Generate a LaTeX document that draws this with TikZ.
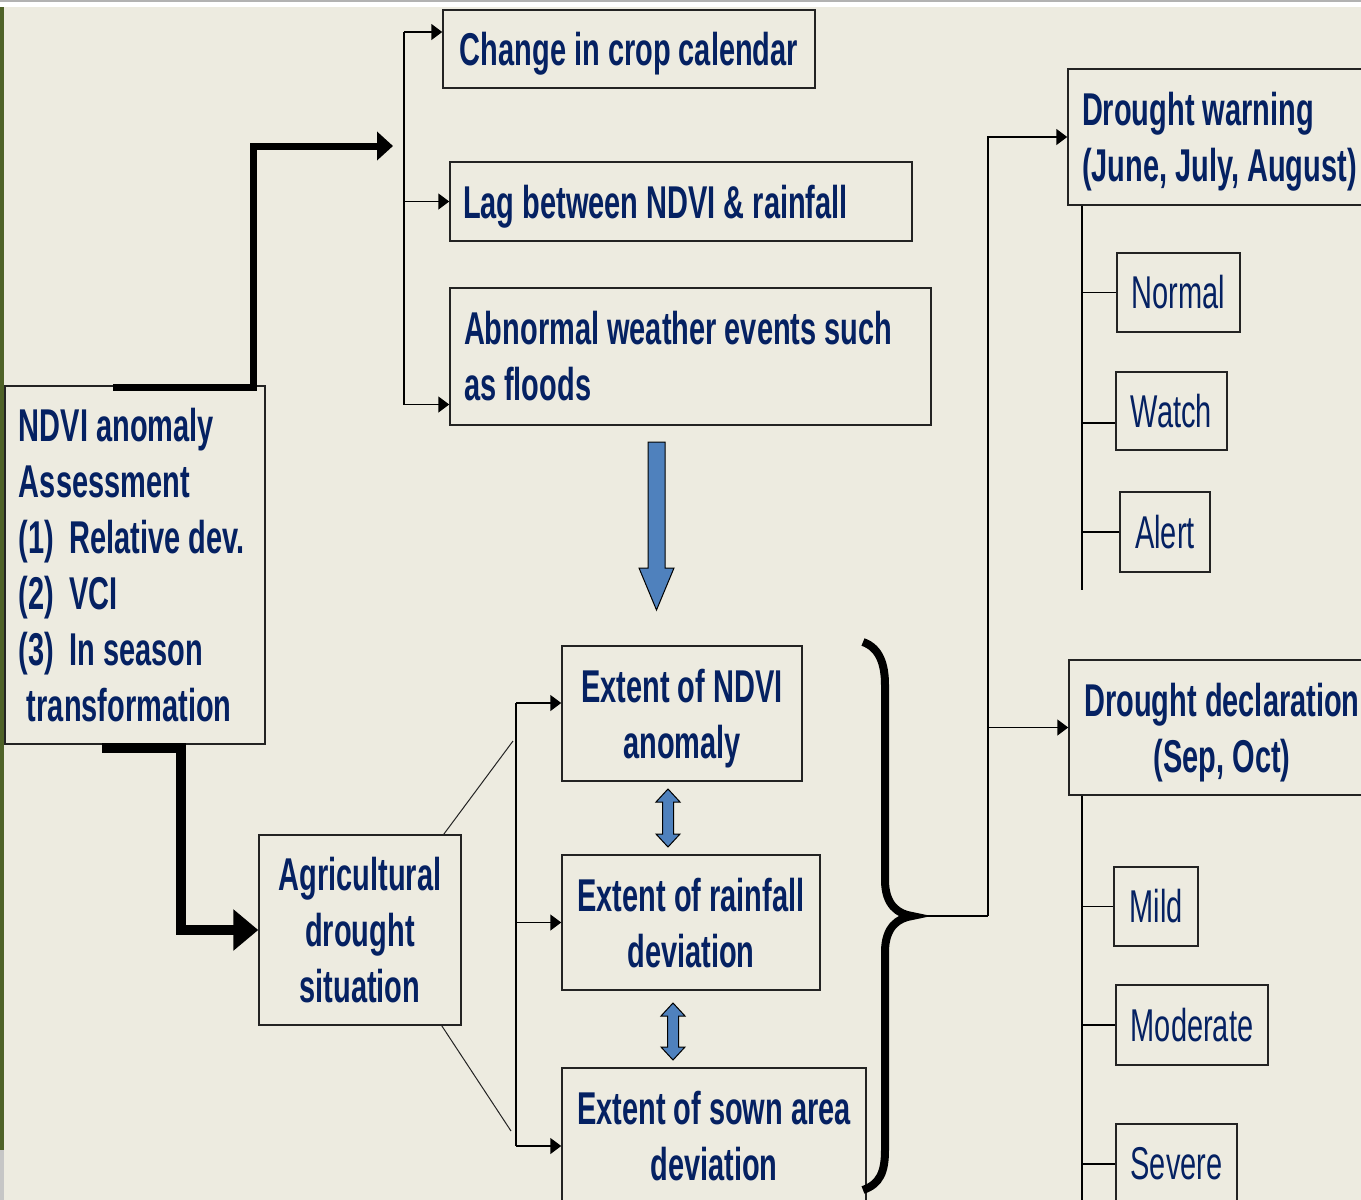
\documentclass[tikz,border=0pt]{standalone}
\usepackage{fontspec}
\newfontfamily\narrowfont{Liberation Sans}[FakeStretch=0.63]
\usepackage{tikz}
\usetikzlibrary{arrows.meta,positioning,calc}

\definecolor{bgbeige}{RGB}{237,235,224}
\definecolor{olivebar}{RGB}{79,98,40}
\definecolor{txtnavy}{RGB}{5,33,98}
\definecolor{arrowblue}{RGB}{79,129,189}
\definecolor{boxline}{RGB}{35,35,35}
\hyphenpenalty=10000

\begin{document}
\begin{tikzpicture}[x=1pt,y=-1pt,
    box/.style={draw=boxline, line width=1.5pt, inner xsep=14pt, inner ysep=0pt,
        text=txtnavy, font=\narrowfont\bfseries\fontsize{46}{56}\selectfont},
    cbox/.style={box, align=center, text depth=0pt},
    lvl/.style={box, inner xsep=0pt, font=\narrowfont\fontsize{46}{56}\selectfont},
    fork/.style={draw=black, line width=1.5pt},
    tip/.style={fork, -{Triangle[length=11pt,width=16pt]}},
    thickarrow/.style={draw=black, line width=7pt, -{Triangle[length=16pt,width=28pt]}},
    blockarrow/.style={fill=arrowblue, draw=black, line width=1pt}]
    \useasboundingbox (0,0) rectangle (1361,1200);
    \clip (0,0) rectangle (1361,1200);
    % slide background
    \fill[bgbeige] (0,0) rectangle (1361,1200);
    \fill[white] (0,0) rectangle (1361,7);
    \draw[gray!60, line width=1.5pt] (0,1) -- (1361,1);
    \fill[olivebar] (0,7) rectangle (4,1150);
    \fill[gray!45] (0,1150) rectangle (4,1200);

    % left column
    \node[box, minimum height=358pt, text width=232pt, align=flush left] (ndvi) at (135,565)
        {NDVI~anomaly\\Assessment\\(1)\hspace{15pt}Relative~dev.\\(2)\hspace{15pt}VCI\\(3)\hspace{15pt}In~season\\\hspace{8pt}transformation};
    \node[cbox, minimum width=202pt, minimum height=190pt] (agri) at (360,930)
        {Agricultural\\drought\\situation};

    % top group
    \node[cbox, minimum width=372pt, minimum height=78pt] (crop) at (629,49) {Change in crop calendar};
    \node[box, minimum height=79pt, text width=436pt, inner xsep=13pt, align=flush left, text depth=0pt] (lag) at (681,201.5)
        {Lag~between~NDVI~\&~rainfall};
    \node[box, minimum height=137pt, text width=453pt, align=flush left] (abn) at (690.5,356.5)
        {Abnormal~weather~events~such\\as~floods};

    % middle group
    \node[cbox, minimum width=240pt, minimum height=135pt] (extn) at (682,713.5)
        {Extent of NDVI\\anomaly};
    \node[cbox, minimum width=258pt, minimum height=135pt] (extr) at (691,922.5)
        {Extent of rainfall\\deviation};
    \node[cbox, minimum width=304pt, minimum height=135pt] (exts) at (714,1135.5)
        {Extent of sown area\\deviation};

    % right column
    \node[box, minimum height=136pt, text width=290pt, align=flush left, text depth=56pt] (warn) at (1227,137)
        {Drought~warning\\(June,~July,~August)};
    \node[lvl, minimum width=123pt, minimum height=79pt] (normal) at (1178.5,292.5) {Normal};
    \node[lvl, minimum width=111pt, minimum height=78pt] (watch) at (1171.5,411) {Watch};
    \node[lvl, minimum width=90pt, minimum height=80pt] (alert) at (1165,532) {Alert};
    \node[cbox, minimum width=306pt, minimum height=135pt, inner xsep=8pt] (decl) at (1222,727.5)
        {Drought declaration\\(Sep, Oct)};
    \node[lvl, minimum width=84pt, minimum height=79pt] (mild) at (1156,906.5) {Mild};
    \node[lvl, minimum width=152pt, minimum height=80pt] (moderate) at (1192,1025) {Moderate};
    \node[lvl, minimum width=121pt, minimum height=80pt] (severe) at (1176.5,1164) {Severe};

    % thick black arrows
    \coordinate (upin) at (393,146);
    \draw[thickarrow] ([xshift=-22pt,yshift=-2pt]ndvi.north) -- ++(140,0) |- (upin);
    \draw[thickarrow, line width=10pt, -{Triangle[length=25pt,width=40pt]}]
        ([xshift=-33pt,yshift=-3pt]ndvi.south) -- ++(79,0) |- (agri.west);

    % fork to the top group
    \coordinate (tf) at (404,0);
    \coordinate (c1) at ([yshift=17pt]crop.west);
    \coordinate (c3) at ([yshift=-48pt]abn.west);
    \draw[fork] (c1 -| tf) -- (c3 -| tf);
    \draw[tip] (c1 -| tf) -- (c1);
    \draw[tip] (tf |- lag.west) -- (lag.west);
    \draw[tip] (c3 -| tf) -- (c3);

    % fork to the middle group
    \coordinate (af) at (516,0);
    \coordinate (e1) at ([yshift=10.5pt]extn.west);
    \coordinate (e3) at ([yshift=-10.5pt]exts.west);
    \draw[fork] (e1 -| af) -- (e3 -| af);
    \draw[tip] (e1 -| af) -- (e1);
    \draw[tip] (af |- extr.west) -- (extr.west);
    \draw[tip] (e3 -| af) -- (e3);
    \coordinate (d1) at (513,741);
    \coordinate (d2) at (511,1131);
    \draw[boxline, line width=1pt] ([xshift=-18pt]agri.north east) -- (d1);
    \draw[boxline, line width=1pt] ([xshift=-20pt]agri.south east) -- (d2);

    % blue arrows
    \filldraw[blockarrow] (648,442) -- (665,442) -- (665,568) -- (674,568) -- (656.5,610)
        -- (639,568) -- (648,568) -- cycle;
    \foreach \cx/\ya/\yb in {668/789/847, 673/1003/1060}
        \filldraw[blockarrow] (\cx,\ya) -- (\cx+12,\ya+13) -- (\cx+5.5,\ya+13) -- (\cx+5.5,\yb-13)
            -- (\cx+12,\yb-13) -- (\cx,\yb) -- (\cx-12,\yb-13) -- (\cx-5.5,\yb-13)
            -- (\cx-5.5,\ya+13) -- (\cx-12,\ya+13) -- cycle;

    % brace
    \coordinate (bt) at (912,916);
    \draw[line width=8pt] (863,642) .. controls (880,648) and (885,665) .. (885,685) -- (885,880)
        .. controls (885,905) and (898,914) .. (bt) .. controls (898,918) and (885,927) .. (885,952)
        -- (885,1150) .. controls (885,1172) and (880,1184) .. (863,1190);

    % fork to the right column
    \coordinate (rf) at (988,916);
    \draw[fork] (bt) -- (rf);
    \draw[tip] (rf) |- (warn.west);
    \draw[tip] (rf |- decl.west) -- (decl.west);

    \coordinate (wsp) at (1082,590);
    \draw[fork] (wsp |- warn.south) -- (wsp);
    \foreach \n in {normal,alert}
        \draw[fork] (\n.west -| wsp) -- (\n.west);
    \draw[fork] ([yshift=-12pt]watch.west) -- ++(-34,0);

    \coordinate (dsp) at (1082,1210);
    \draw[fork] (dsp |- decl.south) -- (dsp);
    \foreach \n in {mild,moderate,severe}
        \draw[fork] (\n.west -| dsp) -- (\n.west);
\end{tikzpicture}
\end{document}
